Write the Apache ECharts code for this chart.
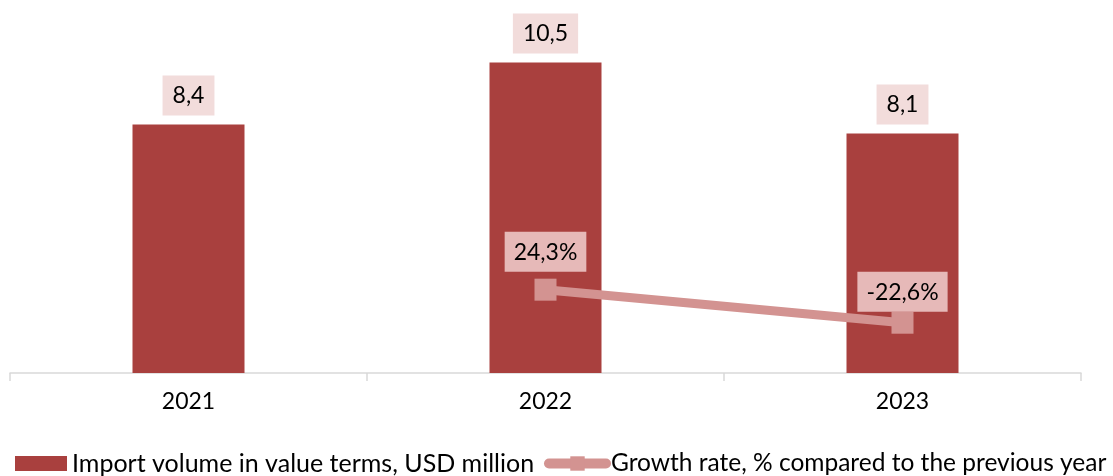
<!DOCTYPE html>
<html>
<head>
<meta charset="utf-8">
<script src="https://cdn.jsdelivr.net/npm/echarts@6/dist/echarts.min.js"></script>
<style>
  html, body { margin: 0; padding: 0; background: #fff; }
  #chart { width: 1113px; height: 476px; }
</style>
</head>
<body>
<div id="chart"></div>
<script>
const years = ['2021', '2022', '2023']
const importVolume = [8.4, 10.5, 8.1]
const growthRate = [null, 24.3, -22.6]

const barName = 'Import volume in value terms, USD million'
const lineName = 'Growth rate, % compared to the previous year'
const fontFamily = 'Lato, "Open Sans", sans-serif'
const barColor = '#a9403e'
const lineColor = '#d39391'

const fmt = v => v.toFixed(1).replace('.', ',')

const chart = echarts.init(document.getElementById('chart'))
const option = {
  animation: false,
  textStyle: { fontFamily: fontFamily },
  grid: { left: 10, right: 32, top: 18, bottom: 103 },
  legend: [
    {
      left: 15,
      top: 451,
      padding: 0,
      itemWidth: 52,
      itemHeight: 15,
      textStyle: { fontSize: 25, color: '#000', fontFamily: fontFamily },
      data: [{ name: barName, icon: 'rect' }]
    },
    {
      left: 544,
      top: 451,
      padding: 0,
      itemWidth: 57,
      itemHeight: 18,
      textStyle: { fontSize: 24.5, color: '#000', fontFamily: fontFamily },
      data: [{
        name: lineName,
        lineStyle: { width: 10, cap: 'round', color: lineColor },
        itemStyle: { color: lineColor }
      }]
    }
  ],
  xAxis: {
    type: 'category',
    data: years,
    axisLine: { lineStyle: { color: '#d9d9d9', width: 1.5 } },
    axisTick: { show: true, length: 8, lineStyle: { color: '#d9d9d9', width: 1.5 } },
    axisLabel: { fontSize: 23, color: '#000', margin: 17 }
  },
  yAxis: [
    { type: 'value', min: 0, max: 12, show: false, splitLine: { show: false } },
    { type: 'value', min: -94, max: 410, show: false, splitLine: { show: false } }
  ],
  series: [
    {
      name: barName,
      type: 'bar',
      yAxisIndex: 0,
      barWidth: 112,
      data: importVolume,
      itemStyle: { color: barColor },
      label: {
        show: true,
        position: 'top',
        distance: 9,
        fontSize: 23,
        color: '#000',
        backgroundColor: '#f2dcdb',
        padding: [9, 10, 8, 10],
        formatter: p => fmt(p.value)
      }
    },
    {
      name: lineName,
      type: 'line',
      yAxisIndex: 1,
      data: growthRate.map((v, i) => ({
        value: v === null ? '-' : v,
        label: { distance: i === 2 ? 0 : 7 }
      })),
      symbol: 'rect',
      symbolSize: 22,
      lineStyle: { color: lineColor, width: 9 },
      itemStyle: { color: lineColor },
      label: {
        show: true,
        position: 'top',
        fontSize: 23,
        color: '#000',
        backgroundColor: '#e6b9b8',
        padding: [9, 9, 8, 9],
        formatter: p => fmt(p.value) + '%'
      }
    }
  ]
}
chart.setOption(option)
</script>
</body>
</html>
